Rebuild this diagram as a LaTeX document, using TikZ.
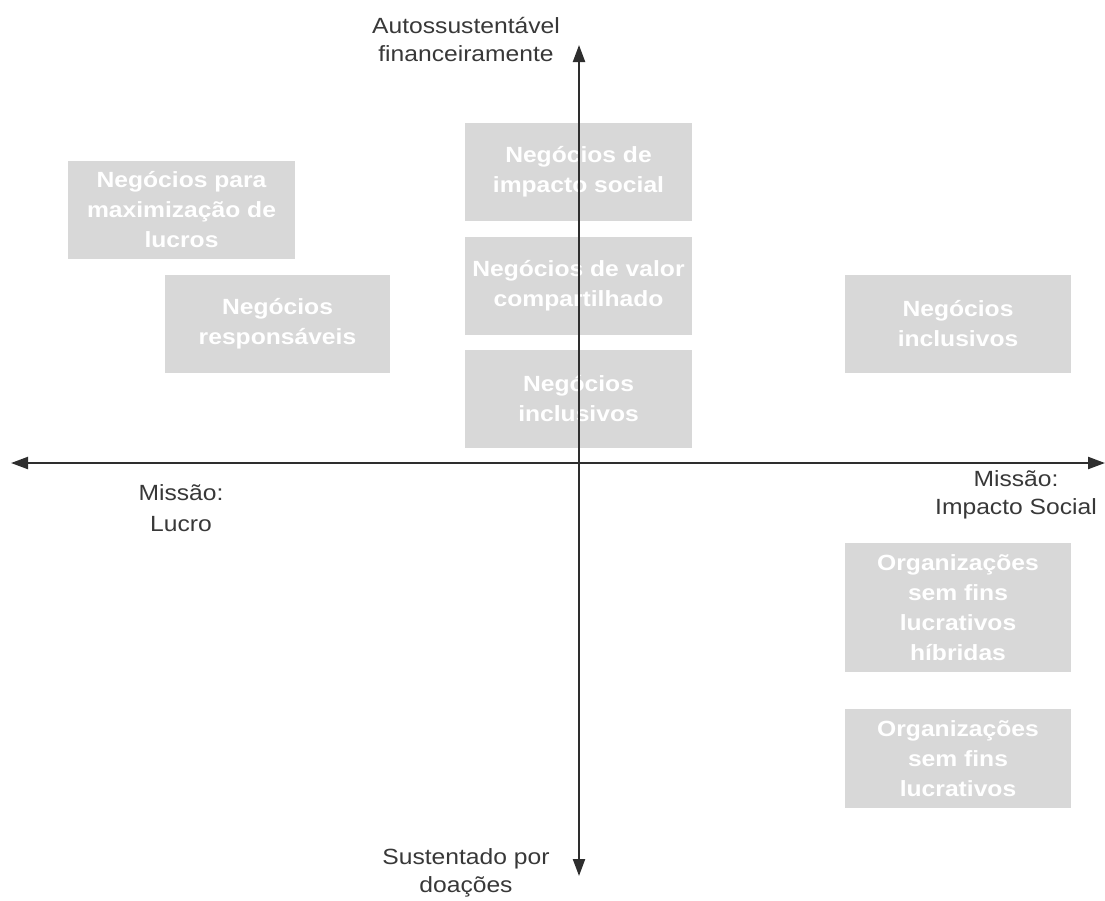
\documentclass[tikz,border=0pt]{standalone}
\usepackage{fontspec}
\setmainfont{Liberation Sans}[FakeStretch=1.12]
\usetikzlibrary{arrows.meta}
\definecolor{boxgray}{HTML}{D8D8D8}
\definecolor{labelgray}{HTML}{383838}
\definecolor{axisgray}{HTML}{2E2E2E}
\begin{document}
\begin{tikzpicture}[x=1pt,y=-1pt,
  quadbox/.style={fill=boxgray, draw=none, inner sep=0pt, align=center,
    text=white, font=\fontsize{22}{30}\selectfont\bfseries},
  axislabel/.style={inner sep=0pt, align=center, text=labelgray,
    font=\fontsize{22}{28}\selectfont},
  axisline/.style={draw=axisgray, line width=2.2pt,
    -{Triangle[length=17pt,width=12pt]}}]
\useasboundingbox (0,0) rectangle (1105,900);

% category boxes
\node[quadbox, minimum width=227pt, minimum height=98pt] (maxi) at (181.5,210) {Negócios para\\maximização de\\lucros};
\node[quadbox, minimum width=225pt, minimum height=98pt] (resp) at (277.5,324) {Negócios\\responsáveis};
\node[quadbox, minimum width=227pt, minimum height=98pt] (impacto) at (578.5,172) {Negócios de\\impacto social};
\node[quadbox, minimum width=227pt, minimum height=98pt] (valor) at (578.5,286) {Negócios de valor\\compartilhado};
\node[quadbox, minimum width=227pt, minimum height=98pt] (inclA) at (578.5,399) {Negócios\\inclusivos};
\node[quadbox, minimum width=226pt, minimum height=98pt] (inclB) at (958,324) {Negócios\\inclusivos};
\node[quadbox, minimum width=226pt, minimum height=129pt] (hibr) at (958,607.5) {Organizações\\sem fins\\lucrativos\\híbridas};
\node[quadbox, minimum width=226pt, minimum height=99pt] (osfl) at (958,758.5) {Organizações\\sem fins\\lucrativos};

% axis ends
\coordinate (origin) at (579,463);
\coordinate (top) at (579,45);
\coordinate (bottom) at (579,876);
\coordinate (left) at (11,463);
\coordinate (right) at (1105,463);

% axes
\draw[axisline] (origin) -- (top);
\draw[axisline] (origin) -- (bottom);
\draw[axisline] (origin) -- (left);
\draw[axisline] (origin) -- (right);

% axis labels
\node[axislabel] (lblTop) at (466,40) {Autossustentável\\financeiramente};
\node[axislabel] (lblBottom) at (466,873) {Sustentado por\\doações};
\node[axislabel, font=\fontsize{22}{31}\selectfont] (lblLeft) at (181,508) {Missão:\\Lucro};
\node[axislabel] (lblRight) at (1016,495) {Missão:\\Impacto Social};
\end{tikzpicture}
\end{document}
